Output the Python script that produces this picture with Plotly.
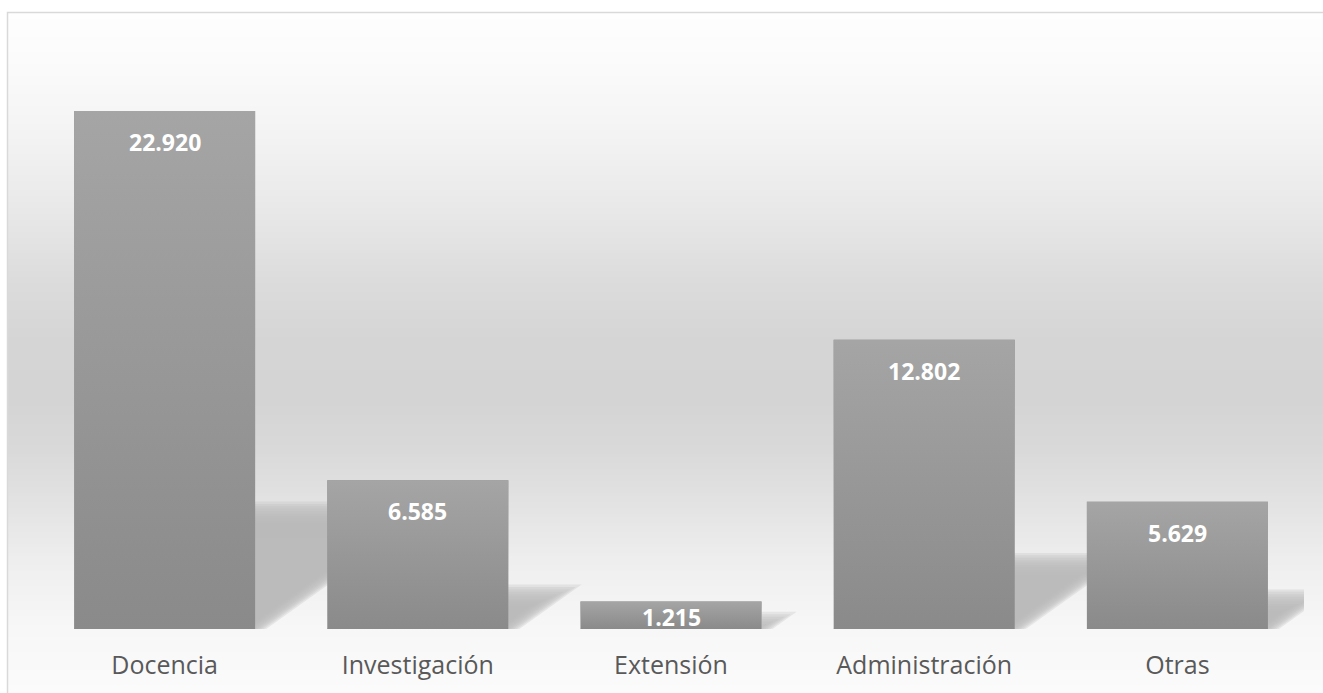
import plotly.graph_objects as go

# ---- data ----
categories = ["Docencia", "Investigación", "Extensión", "Administración", "Otras"]
values = [22920, 6585, 1215, 12802, 5629]
value_labels = ["22.920", "6.585", "1.215", "12.802", "5.629"]

# ---- layout constants (style) ----
W, H = 1323, 693
M_L, M_R, M_T, M_B = 38, 19, 45, 64
PLOT_W = W - M_L - M_R
PLOT_H = H - M_T - M_B
Y_MAX = 25840
BAR_W = 0.715
PPU = PLOT_H / Y_MAX            # pixels per data unit (y)
CAT_PX = PLOT_W / len(categories)  # pixels per category (x)

fig = go.Figure()

# ---- background gradient (bands) ----
stops = [(12, 254), (60, 251), (120, 245), (200, 234), (280, 220), (340, 213),
         (400, 212), (450, 217), (500, 226), (560, 238), (629, 247), (693, 251)]


def gray_at(py):
    for (a, ga), (b, gb) in zip(stops[:-1], stops[1:]):
        if a <= py <= b:
            t = (py - a) / (b - a)
            return ga + (gb - ga) * t
    return stops[-1][1]


def px_to_paper_x(px):
    return (px - M_L) / PLOT_W


def px_to_paper_y(py):
    return (H - M_B - py) / PLOT_H


shapes = []
step = 3
py = 13
while py < H:
    g = int(round(gray_at(py + step / 2)))
    shapes.append(dict(type="rect", xref="paper", yref="paper", layer="below",
                       x0=px_to_paper_x(8), x1=px_to_paper_x(W + 5),
                       y0=px_to_paper_y(py), y1=px_to_paper_y(py + step + 0.6),
                       fillcolor=f"rgb({g},{g},{g})", line=dict(width=0)))
    py += step

# ---- bar shadows (perspective, blurred by layering) ----
SH_SCALE = 0.225
SH_SKEW = 1.4
BLUR = 22
N_LAYERS = 10
alpha = 1 - 0.04 ** (1 / N_LAYERS)
for i, v in enumerate(values):
    h_px = v * PPU
    Hs = SH_SCALE * h_px
    x0 = -BAR_W / 2 * CAT_PX
    x1 = BAR_W / 2 * CAT_PX
    for j in range(N_LAYERS):
        d = BLUR / 2 - j * BLUR / (N_LAYERS - 1)
        top = Hs + d
        if top <= 1:
            continue
        pts = [(x0, 0), (x1 + d, 0), (x1 + d + SH_SKEW * top, top), (x0 + SH_SKEW * top, top)]
        path = "M " + " L ".join(f"{i + px / CAT_PX},{py_ / PPU}" for px, py_ in pts) + " Z"
        shapes.append(dict(type="path", xref="x", yref="y", layer="below", path=path,
                           fillcolor="rgb(186,186,186)", opacity=alpha, line=dict(width=0)))

# ---- chart border ----
shapes.append(dict(type="rect", xref="paper", yref="paper", layer="above",
                   x0=px_to_paper_x(7.5), x1=px_to_paper_x(W + 10),
                   y0=px_to_paper_y(H + 10), y1=px_to_paper_y(12.5),
                   fillcolor="rgba(0,0,0,0)", line=dict(color="#d9d9d9", width=1.5)))

# ---- bars ----
xs = list(range(len(categories)))
fig.add_trace(go.Bar(x=xs, y=values, width=BAR_W, marker=dict(color="#8a8a8a", line=dict(width=0)),
                     hoverinfo="skip", showlegend=False))

# gradient overlay on each bar (lighter top)
for i, v in enumerate(values):
    fig.add_trace(go.Scatter(
        x=[i - BAR_W / 2, i + BAR_W / 2, i + BAR_W / 2, i - BAR_W / 2, i - BAR_W / 2],
        y=[0, 0, v, v, 0], mode="lines", line=dict(width=0), fill="toself",
        fillgradient=dict(type="vertical",
                          colorscale=[[0, "rgba(165,165,165,0)"], [1, "rgba(165,165,165,1)"]]),
        hoverinfo="skip", showlegend=False))

# ---- value labels ----
annotations = []
for i, (v, lab) in enumerate(zip(values, value_labels)):
    h_px = v * PPU
    shift = -31 if h_px > 60 else -(h_px / 2 + 2)
    annotations.append(dict(x=i, y=v, xref="x", yref="y", text=lab, showarrow=False,
                            yanchor="middle", yshift=shift,
                            font=dict(family="Open Sans", size=23, color="white", weight="bold")))

fig.update_layout(
    width=W, height=H,
    margin=dict(l=M_L, r=M_R, t=M_T, b=M_B, autoexpand=False),
    paper_bgcolor="white", plot_bgcolor="rgba(0,0,0,0)",
    shapes=shapes, annotations=annotations,
    xaxis=dict(range=[-0.5, len(categories) - 0.5], tickvals=xs, ticktext=categories,
               showgrid=False, zeroline=False, showline=False, ticks="",
               ticklabelstandoff=19, automargin=False,
               tickfont=dict(family="Open Sans", size=25, color="#595959")),
    yaxis=dict(range=[0, Y_MAX], visible=False, showgrid=False, zeroline=False, automargin=False),
    showlegend=False,
)

fig.write_html("out.html", config={"displayModeBar": False},
               post_script="document.body.style.margin='0px';document.body.style.overflow='hidden';")
